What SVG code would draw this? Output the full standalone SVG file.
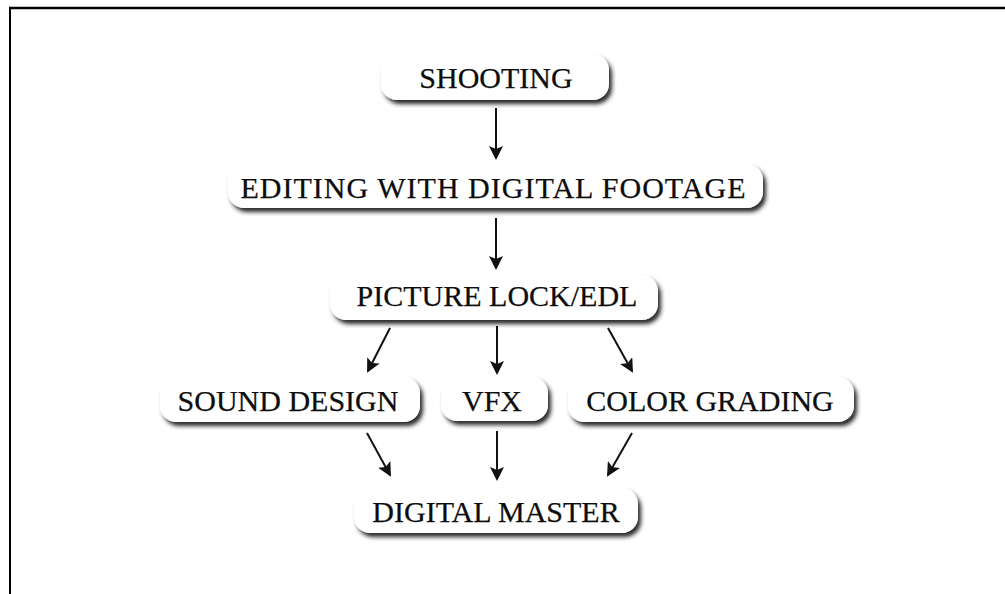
<svg xmlns="http://www.w3.org/2000/svg" width="1005" height="594" viewBox="0 0 1005 594">
<defs>
<style>
.box{fill:#ffffff;filter:url(#sh);}
.lbl{font-family:"Liberation Serif","Times New Roman",serif;font-size:30px;fill:#0d0d0d;stroke:#0d0d0d;stroke-width:0.25;text-anchor:middle;}
.arr{stroke:#111;stroke-width:2;fill:none;marker-end:url(#ah);}
</style>
<filter id="sh" x="-10%" y="-30%" width="125%" height="170%">
<feDropShadow dx="3" dy="4" stdDeviation="2.2" flood-color="#1a1a1a" flood-opacity="0.95"/>
</filter>
<marker id="ah" viewBox="0 0 14 14" refX="12" refY="7" markerWidth="14" markerHeight="14" markerUnits="userSpaceOnUse" orient="auto">
<path d="M0,0 L14,7 L0,14 L3,7 Z" fill="#111"/>
</marker>
</defs>
<rect width="1005" height="594" fill="#ffffff"/>
<g id="frame">
<line x1="9" y1="8" x2="1005" y2="8" stroke="#000" stroke-width="2.5"/>
<line x1="10" y1="8" x2="10" y2="594" stroke="#000" stroke-width="2"/>
</g>
<g id="connectors">
<line class="arr" x1="496" y1="108" x2="496" y2="158"/>
<line class="arr" x1="496" y1="218" x2="496" y2="268"/>
<line class="arr" x1="390" y1="328" x2="368" y2="371"/>
<line class="arr" x1="497" y1="326" x2="497" y2="373"/>
<line class="arr" x1="608" y1="328" x2="632" y2="371"/>
<line class="arr" x1="367" y1="433" x2="390" y2="475"/>
<line class="arr" x1="497" y1="431" x2="497" y2="479"/>
<line class="arr" x1="632" y1="433" x2="608" y2="475"/>
</g>
<g id="shooting">
<rect class="box" x="381" y="54" width="228" height="46" rx="16"/>
<text class="lbl" x="496" y="88">SHOOTING</text>
</g>
<g id="editing">
<rect class="box" x="228" y="164" width="535" height="44" rx="16"/>
<text class="lbl" x="493" y="198" textLength="505" lengthAdjust="spacing">EDITING WITH DIGITAL FOOTAGE</text>
</g>
<g id="picture-lock">
<rect class="box" x="330" y="275" width="328" height="45" rx="16"/>
<text class="lbl" x="497" y="306">PICTURE LOCK/EDL</text>
</g>
<g id="sound-design">
<rect class="box" x="160" y="377" width="260" height="45" rx="16"/>
<text class="lbl" x="288" y="411">SOUND DESIGN</text>
</g>
<g id="vfx">
<rect class="box" x="441" y="377" width="107" height="44" rx="16"/>
<text class="lbl" x="492" y="411">VFX</text>
</g>
<g id="color-grading">
<rect class="box" x="568" y="377" width="286" height="45" rx="16"/>
<text class="lbl" x="710" y="411">COLOR GRADING</text>
</g>
<g id="digital-master">
<rect class="box" x="354" y="488" width="284" height="45" rx="16"/>
<text class="lbl" x="496" y="522">DIGITAL MASTER</text>
</g>
</svg>
